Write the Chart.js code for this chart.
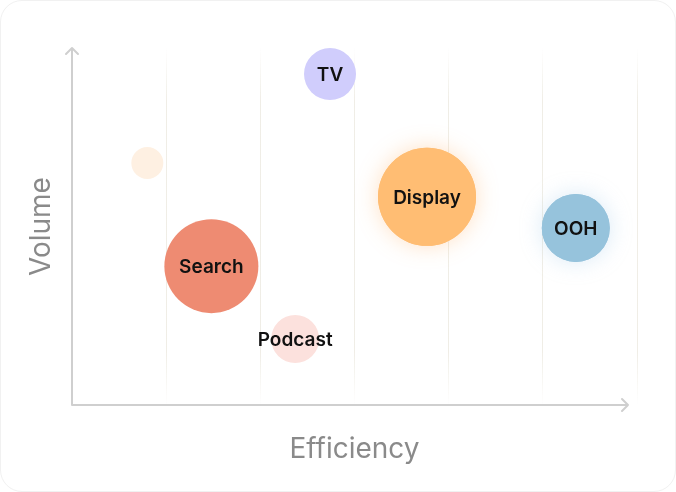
<!DOCTYPE html>
<html>
<head>
<meta charset="utf-8">
<script src="https://cdn.jsdelivr.net/npm/chart.js@4"></script>
<style>
  html, body { margin: 0; padding: 0; background: #ffffff; }
  .card { position: absolute; left: 0; top: 0; width: 674px; height: 490px; border: 1px solid #f1f1f1; border-radius: 22px; background: #fff; }
  #wrap { position: absolute; left: 0; top: 0; width: 676px; height: 492px; }
</style>
</head>
<body>
<div class="card"></div>
<div id="wrap"><canvas id="c"></canvas></div>
<script>
const channels = ['', 'TV', 'Display', 'OOH', 'Search', 'Podcast'];
const efficiency = [8, 27.4, 37.7, 53.5, 14.8, 23.7];
const volume = [67.8, 92.7, 58.3, 49.6, 38.9, 18.5];
const bubbleSize = [16, 26, 49, 34, 47, 24];
const colors = ['#FEF0E2', '#D0CDFC', '#FFBD73', '#96C3DC', '#EE8B72', '#FCE1DD'];
const glows = [null, null, 'rgba(255,170,90,0.35)', 'rgba(150,195,230,0.35)', null, null];
const xTicks = [0, 10, 20, 30, 40, 50, 60];

const points = channels.map((c, i) => ({ x: efficiency[i], y: volume[i], r: bubbleSize[i], label: c }));

const glowPlugin = {
  id: 'glow',
  beforeDatasetsDraw(chart) {
    const meta = chart.getDatasetMeta(0);
    const ctx = chart.ctx;
    meta.data.forEach((el, i) => {
      if (!glows[i]) return;
      ctx.save();
      ctx.shadowColor = glows[i];
      ctx.shadowBlur = 22;
      ctx.fillStyle = colors[i];
      ctx.beginPath();
      ctx.arc(el.x, el.y, bubbleSize[i], 0, Math.PI * 2);
      ctx.fill();
      ctx.restore();
    });
  }
};

const axesPlugin = {
  id: 'arrows',
  afterDatasetsDraw(chart) {
    const { ctx, chartArea: a } = chart;
    ctx.save();
    ctx.strokeStyle = '#cfcfcf';
    ctx.lineWidth = 2;
    ctx.lineCap = 'round';
    ctx.lineJoin = 'round';
    const left = a.left, bottom = a.bottom, top = a.top, right = a.right - 9;
    ctx.beginPath();
    ctx.moveTo(left, bottom);
    ctx.lineTo(left, top);
    ctx.moveTo(left - 6, top + 6);
    ctx.lineTo(left, top);
    ctx.lineTo(left + 6, top + 6);
    ctx.moveTo(left, bottom);
    ctx.lineTo(right, bottom);
    ctx.moveTo(right - 6, bottom - 6);
    ctx.lineTo(right, bottom);
    ctx.lineTo(right - 6, bottom + 6);
    ctx.stroke();
    const meta = chart.getDatasetMeta(0);
    ctx.fillStyle = '#111';
    ctx.font = '600 19px Inter';
    ctx.textAlign = 'center';
    ctx.textBaseline = 'middle';
    meta.data.forEach((el, i) => {
      if (channels[i]) ctx.fillText(channels[i], el.x, el.y + 1);
    });
    ctx.restore();
  }
};

new Chart(document.getElementById('c'), {
  type: 'bubble',
  data: {
    datasets: [{
      data: points,
      backgroundColor: colors,
      borderWidth: 0,
      hoverBorderWidth: 0,
      clip: false
    }]
  },
  options: {
    responsive: true,
    maintainAspectRatio: false,
    animation: false,
    events: [],
    layout: { autoPadding: false, padding: { top: 48, right: 39, bottom: 12, left: 12 } },
    plugins: { legend: { display: false }, tooltip: { enabled: false } },
    scales: {
      x: {
        type: 'linear', min: 0, max: 60,
        afterBuildTicks: (s) => { s.ticks = xTicks.map(v => ({ value: v })); },
        ticks: { display: false },
        border: { display: false },
        grid: {
          drawTicks: false,
          lineWidth: 1,
          color: (ctx) => {
            if (ctx.index === 0) return 'rgba(0,0,0,0)';
            const chart = ctx.chart;
            const a = chart.chartArea;
            if (!a) return '#f0eee8';
            const g = chart.ctx.createLinearGradient(0, a.top, 0, a.bottom);
            g.addColorStop(0, 'rgba(236,233,224,0)');
            g.addColorStop(0.15, 'rgba(236,233,224,0.8)');
            g.addColorStop(0.85, 'rgba(236,233,224,0.8)');
            g.addColorStop(1, 'rgba(236,233,224,0)');
            return g;
          }
        },
        title: { display: true, text: 'Efficiency', color: '#8a8a8a', font: { family: 'Inter', size: 28, weight: '400' }, padding: { top: 28.2, bottom: 13.2 } }
      },
      y: {
        type: 'linear', min: 0, max: 100,
        ticks: { display: false },
        border: { display: false },
        grid: { display: false, drawTicks: false },
        title: { display: true, text: 'Volume', color: '#8a8a8a', font: { family: 'Inter', size: 28, weight: '400' }, padding: { top: 13.2, bottom: 13.2 } }
      }
    }
  },
  plugins: [glowPlugin, axesPlugin]
});
</script>
</body>
</html>
